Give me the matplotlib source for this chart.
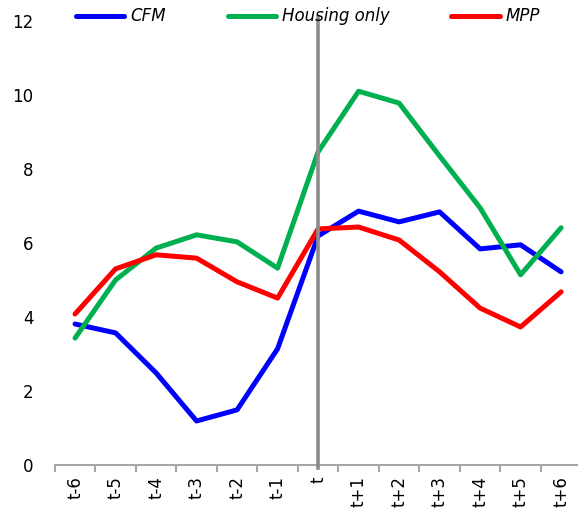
import matplotlib.pyplot as plt
import numpy as np

periods = ['t-6', 't-5', 't-4', 't-3', 't-2', 't-1', 't',
           't+1', 't+2', 't+3', 't+4', 't+5', 't+6']
cfm = [3.81, 3.57, 2.49, 1.19, 1.49, 3.14, 6.19, 6.86, 6.57, 6.84, 5.84, 5.95, 5.22]
housing_only = [3.43, 5.0, 5.86, 6.22, 6.03, 5.32, 8.46, 10.1, 9.78, 8.35, 6.95, 5.14, 6.41]
mpp = [4.08, 5.3, 5.68, 5.59, 4.95, 4.51, 6.38, 6.43, 6.08, 5.22, 4.24, 3.73, 4.68]
event_period = 't'

fig = plt.figure(figsize=(5.78, 5.14), dpi=100)
ax = fig.add_axes([0.0948, 0.0953, 0.911, 0.864])

x = np.arange(len(periods))
line_kw = dict(linewidth=3.6, solid_joinstyle='round', solid_capstyle='round')
ax.plot(x, cfm, color='#0000FF', label='CFM', **line_kw)
ax.plot(x, housing_only, color='#00B050', label='Housing only', **line_kw)
ax.plot(x, mpp, color='#FF0000', label='MPP', **line_kw)

# vertical marker at the event period
ev = periods.index(event_period)
ax.plot([ev, ev], [-0.08, 12.1], color='#8C8C8C', linewidth=2.6, clip_on=False, zorder=5)

ax.set_xlim(-0.5, len(periods) - 0.5)
ax.set_ylim(0, 12)
ax.set_yticks(range(0, 13, 2))

# tick marks between categories, labels at the centres
ax.set_xticks(np.arange(-0.5, len(periods), 1.0))
ax.set_xticklabels([])
ax.set_xticks(x, minor=True)
ax.set_xticklabels(periods, minor=True, rotation=90, fontsize=12)
ax.tick_params(axis='x', which='major', direction='out', length=5, width=1.5, color='#A6A6A6')
ax.tick_params(axis='x', which='minor', length=0, pad=8)
ax.tick_params(axis='y', length=0, pad=15.5, labelsize=12)

for s in ['top', 'right', 'left']:
    ax.spines[s].set_visible(False)
ax.spines['bottom'].set_color('#A6A6A6')
ax.spines['bottom'].set_linewidth(1.5)

leg = ax.legend(loc='lower left', bbox_to_anchor=(0.0275, 0.975), ncol=3, frameon=False,
                handlelength=2.9, handletextpad=0.36, columnspacing=3.7,
                prop={'style': 'italic', 'size': 12}, borderaxespad=0)

fig.savefig('out.png', dpi=100)
